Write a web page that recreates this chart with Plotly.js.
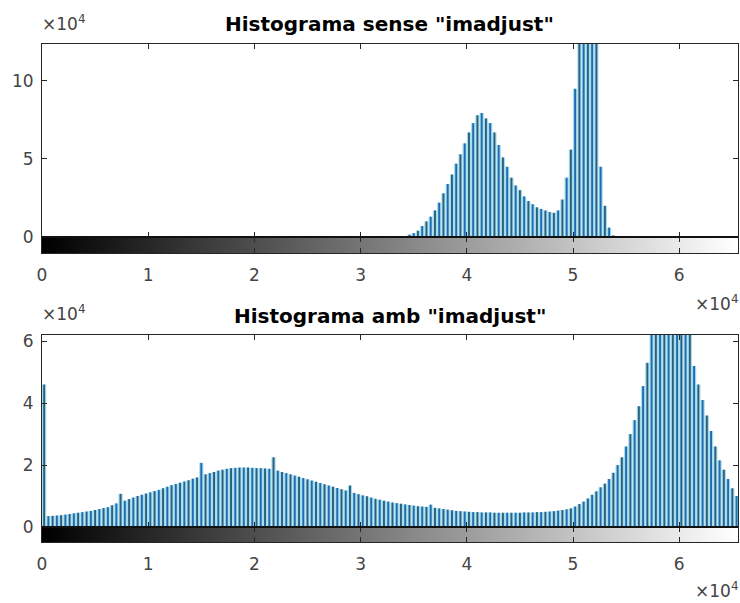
<!DOCTYPE html>
<html><head><meta charset="utf-8">
<script src="https://cdn.plot.ly/plotly-3.0.1.min.js"></script>
<style>html,body{margin:0;padding:0;background:#fff}#chart{width:740px;height:603px}</style>
</head><body><div id="chart"></div>
<script>
// ---- data ----
const binWidth = 400;            // intensity units per histogram bin
const xMax = 65535;              // uint16 range
const topTitle = 'Histograma sense "imadjust"';
const bottomTitle = 'Histograma amb "imadjust"';
const xTickVals = [0, 10000, 20000, 30000, 40000, 50000, 60000];
const xTickText = ['0', '1', '2', '3', '4', '5', '6'];
const topYTickVals = [0, 50000, 100000];
const topYTickText = ['0', '5', '10'];
const bottomYTickVals = [0, 20000, 40000, 60000];
const bottomYTickText = ['0', '2', '4', '6'];
const exponentLabel = '×10<sup>4</sup>';

const topCounts = [
  0,0,0,0,0,0,0,0,0,0, 0,0,0,0,0,0,0,0,0,0,
  0,0,0,0,0,0,0,0,0,0, 0,0,0,0,0,0,0,0,0,0,
  0,0,0,0,0,0,0,0,0,0, 0,0,0,0,0,0,0,0,0,0,
  0,0,0,0,0,0,0,0,0,0, 0,0,0,0,0,0,0,0,0,0,
  0,0,0,0,0,0,
  1500, 2500, 4000, 7000, 10000, 13000, 17000, 22000, 28000, 34000,
  40000, 47000, 53000, 60000, 67000, 73000, 78000, 79500, 76000, 73000,
  67000, 59000, 51000, 45000, 38000, 33000, 30000, 26000, 23000, 21000,
  19000, 18000, 17000, 16000, 15500, 17000, 24000, 38000, 56000, 95000,
  160000, 190000, 180000, 160000, 130000, 45000, 20000, 6000, 1000,
  0,0,0,0,0,0,0,0,0,0, 0,0,0,0,0,0,0,0,0,0, 0,0,0,0,0,0,0,0,0
];

const bottomCounts = [
  46000, 3500, 3600, 3700, 3800, 4000, 4200, 4400, 4600, 4800,
  5000, 5200, 5500, 5800, 6100, 6400, 7000, 7600, 10700, 8500,
  9000, 9500, 10000, 10400, 10800, 11200, 11600, 12000, 12500, 13000,
  13500, 13900, 14300, 14700, 15100, 15600, 16000, 20700, 17000, 17400,
  17800, 18200, 18500, 18800, 19000, 19100, 19200, 19200, 19200, 19100,
  19000, 19000, 18900, 18800, 22500, 18200, 17800, 17400, 17000, 16600,
  16200, 15800, 15400, 15000, 14600, 14200, 13800, 13400, 13000, 12600,
  12200, 11800, 13400, 11000, 10600, 10200, 9900, 9500, 9100, 8800,
  8500, 8200, 7900, 7700, 7500, 7300, 7100, 6900, 6700, 6600,
  6500, 7200, 6200, 6000, 5800, 5600, 5400, 5200, 5100, 5000,
  4900, 4800, 4800, 4700, 4700, 4700, 4600, 4600, 4600, 4600,
  4600, 4600, 4600, 4700, 4700, 4700, 4800, 4800, 4900, 5000,
  5100, 5300, 5500, 5700, 6000, 6600, 7400, 8200, 9200, 10400,
  11500, 12800, 14000, 15500, 17500, 20000, 22500, 26000, 30000, 34500,
  39000, 45500, 53000, 64000, 72000, 78000, 82000, 84000, 83000, 80000,
  76000, 70000, 64000, 52000, 46000, 41000, 36000, 31000, 26000, 21500,
  18500, 15500, 12500, 10000
];

// ---- derived ----
const binCenters = topCounts.map((_, i) => i * binWidth + binWidth / 2);
const grayRamp = [];
for (let g = 0; g < 256; g++) grayRamp.push(g);

const W = 740, H = 603;
const px = v => v / W;
const py = v => 1 - v / H;

const axColor = '#262626';
const font = 'DejaVu Sans, Liberation Sans, Arial, sans-serif';
const tickFont = {family: font, size: 17, color: '#444444'};
const stemColors = binCenters.map((_, i) => i % 2 ? '#1a6db2' : '#2c5f7c');

function histTraces(counts, xa, ya) {
  return [
    {type: 'bar', x: binCenters, y: counts, width: binWidth, xaxis: xa, yaxis: ya,
     marker: {color: '#a6dbec', line: {width: 0}}, hoverinfo: 'skip', showlegend: false},
    {type: 'bar', x: binCenters, y: counts, width: binWidth * 0.45, xaxis: xa, yaxis: ya,
     marker: {color: stemColors, line: {width: 0}}, showlegend: false}
  ];
}
function rampTrace(xa, ya) {
  return {type: 'heatmap', z: [grayRamp], x0: 128, dx: 256, y0: 0.5, dy: 1,
    xaxis: xa, yaxis: ya, zmin: 0, zmax: 255, showscale: false, hoverinfo: 'skip',
    colorscale: [[0, '#000000'], [1, '#ffffff']]};
}

const data = [
  ...histTraces(topCounts, 'x', 'y'),
  rampTrace('x2', 'y2'),
  ...histTraces(bottomCounts, 'x3', 'y3'),
  rampTrace('x4', 'y4')
];

const xDom = [px(42), px(738)];
function histX(anchor) {
  return {domain: xDom, range: [0, xMax], anchor: anchor, showgrid: false, zeroline: false,
    showline: true, linecolor: axColor, linewidth: 1, mirror: 'ticks', ticks: 'inside',
    ticklen: 5, tickcolor: axColor, tickvals: xTickVals, showticklabels: false, fixedrange: true};
}
function histY(anchor, dom, top, tv, tt) {
  return {domain: dom, range: [0, top], anchor: anchor, showgrid: false, zeroline: false,
    showline: true, linecolor: axColor, linewidth: 1, mirror: 'ticks', ticks: 'inside',
    ticklen: 5, tickcolor: axColor, tickvals: tv, ticktext: tt, tickfont: tickFont,
    ticklabelstandoff: 4, fixedrange: true};
}
function rampX(anchor) {
  return {domain: xDom, range: [0, xMax], anchor: anchor, showgrid: false, zeroline: false,
    showline: true, linecolor: axColor, linewidth: 1, mirror: 'ticks', ticks: 'inside',
    ticklen: 5, tickcolor: axColor, tickvals: xTickVals, ticktext: xTickText,
    tickfont: tickFont, ticklabelstandoff: 7, fixedrange: true};
}
function rampY(anchor, dom) {
  return {domain: dom, range: [0, 1], anchor: anchor, showgrid: false, zeroline: false,
    showline: true, linecolor: axColor, linewidth: 1, mirror: true, ticks: '',
    showticklabels: false, fixedrange: true};
}

const titleFont = {family: font, size: 20, color: '#000', weight: 'bold'};
const expFont = {family: font, size: 17, color: '#444444'};

const layout = {
  width: W, height: H, margin: {l: 0, r: 0, t: 0, b: 0},
  paper_bgcolor: '#fff', plot_bgcolor: '#fff',
  barmode: 'overlay', showlegend: false,
  xaxis: histX('y'),
  yaxis: histY('x', [py(237), py(44)], 123700, topYTickVals, topYTickText),
  xaxis2: rampX('y2'),
  yaxis2: rampY('x2', [py(253), py(237)]),
  xaxis3: histX('y3'),
  yaxis3: histY('x3', [py(527), py(335)], 62000, bottomYTickVals, bottomYTickText),
  xaxis4: rampX('y4'),
  yaxis4: rampY('x4', [py(542), py(527)]),
  shapes: [
    {type: 'line', xref: 'paper', yref: 'paper', x0: px(42), x1: px(738), y0: py(237), y1: py(237),
     line: {color: '#111', width: 2}},
    {type: 'line', xref: 'paper', yref: 'paper', x0: px(42), x1: px(738), y0: py(527), y1: py(527),
     line: {color: '#111', width: 2}}
  ],
  annotations: [
    {text: '<b>' + topTitle + '</b>', xref: 'paper', yref: 'paper', x: px(390), y: py(24),
     xanchor: 'center', yanchor: 'middle', showarrow: false, font: titleFont},
    {text: '<b>' + bottomTitle + '</b>', xref: 'paper', yref: 'paper', x: px(390), y: py(316),
     xanchor: 'center', yanchor: 'middle', showarrow: false, font: titleFont},
    {text: exponentLabel, xref: 'paper', yref: 'paper', x: px(40), y: py(23),
     xanchor: 'left', yanchor: 'middle', showarrow: false, font: expFont},
    {text: exponentLabel, xref: 'paper', yref: 'paper', x: px(40), y: py(313),
     xanchor: 'left', yanchor: 'middle', showarrow: false, font: expFont},
    {text: exponentLabel, xref: 'paper', yref: 'paper', x: px(740), y: py(303),
     xanchor: 'right', yanchor: 'middle', showarrow: false, font: expFont},
    {text: exponentLabel, xref: 'paper', yref: 'paper', x: px(740), y: py(590),
     xanchor: 'right', yanchor: 'middle', showarrow: false, font: expFont}
  ]
};

Plotly.newPlot('chart', data, layout, {displayModeBar: false, staticPlot: true});
</script>
</body></html>
